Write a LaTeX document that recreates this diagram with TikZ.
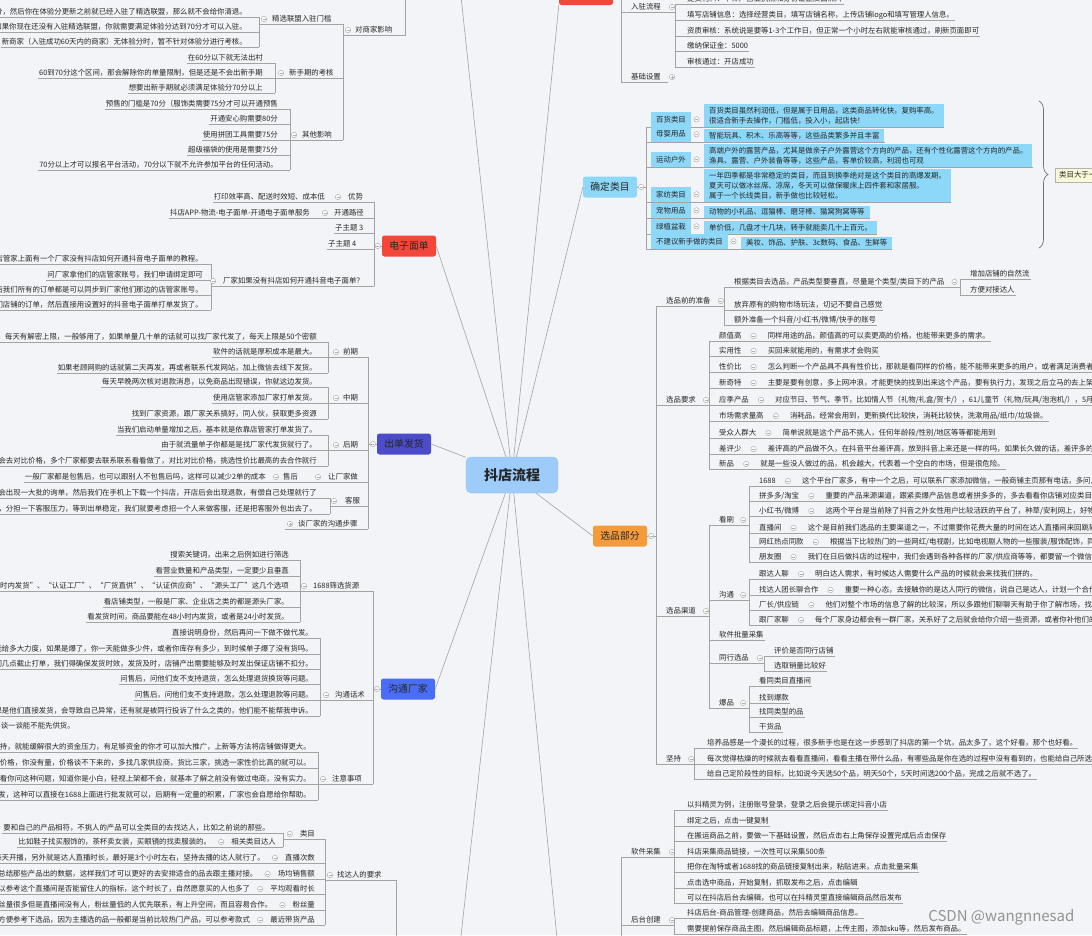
\documentclass[tikz,border=0pt]{standalone}
\usepackage{fontspec}
\setmainfont{Noto Sans CJK SC}
\usetikzlibrary{positioning, decorations.pathreplacing}
\definecolor{cbg}{HTML}{F3F4F8}
\definecolor{cline}{HTML}{A3A3A3}
\definecolor{ctext}{HTML}{262626}
\definecolor{cred}{HTML}{F2473B}
\definecolor{cpurple}{HTML}{4C4BC9}
\definecolor{cblue}{HTML}{4A6DF5}
\definecolor{corange}{HTML}{F49C3C}
\definecolor{ccyan}{HTML}{8DD8F8}
\definecolor{ccenter}{HTML}{9DCCFB}
\definecolor{cnote}{HTML}{FBFAD8}
\definecolor{cmark}{HTML}{B0B0B0}
\tikzset{
  txt/.style={font=\fontsize{7.4}{9}\selectfont, text=ctext, inner xsep=1pt, inner ysep=1.2pt, text height=6pt, text depth=1.6pt},
  ln/.style={draw=cline, line width=0.6pt},
  topic/.style={rounded corners=2.5pt, font=\fontsize{9.8}{11}\selectfont, text=ctext, minimum width=54pt, minimum height=21pt, inner sep=2pt},
  cbox/.style={font=\fontsize{7.4}{10}\selectfont, text=ctext, fill=ccyan, inner xsep=5pt, inner ysep=2.7pt},
  foldmark/.pic={\draw[cmark, fill=white, line width=0.5pt] (0,0) circle (2.7pt); \draw[cmark, line width=0.5pt] (-1.5pt,0) -- (1.5pt,0);},
  openmark/.pic={\draw[cmark, fill=white, line width=0.5pt] (0,0) circle (2.7pt); \draw[cmark, line width=0.5pt] (-1.5pt,0) -- (1.5pt,0) (0,-1.5pt) -- (0,1.5pt);}
}
\begin{document}
\begin{tikzpicture}[x=1pt, y=-1pt]
\fill[cbg] (0,0) rectangle (1092,935);
\useasboundingbox (0,0) rectangle (1092,935);
% bracket columns
\foreach \n/\x in {b0/343, b1/259, b2/275, b3/290, b4/374, b5/211, b6/368, b7/328, b10/330, b11/373, b12/300, b13/320, b14/325, b15/283, b16/318,
    b20/621, b21/675, b22/646, b23/656, b24/724, b25/960, b26/709, b28/749, b30/764, b32/694, b33/674}
  \coordinate (\n) at (\x,0);

% centre and main topics
\node[fill=ccenter, draw=ccenter!85!gray, rounded corners=5pt, minimum width=92pt, minimum height=36pt, font=\fontsize{14}{16}\selectfont\bfseries, text=ctext] (ct) at (512,475) {抖店流程};
\node[topic, fill=cred] (ds) at (409,246) {电子面单};
\node[topic, fill=cpurple] (cd) at (404,444) {出单发货};
\node[topic, fill=cblue] (gc) at (408,689) {沟通厂家};
\node[topic, fill=corange] (xp) at (620,536) {选品部分};
\node[topic, fill=ccyan] (qd) at (610,187) {确定类目};
\node[topic, fill=cred, minimum height=26pt] (rd) at (586,-8) {};
\coordinate (offa) at (455,-60);
\coordinate (offb) at (455,990);
\coordinate (offc) at (562,990);
\foreach \t in {ds.east, cd.east, gc.east, xp.west, qd.west, rd.south west, offa, offb, offc}
  \draw[ln] (ct) -- (\t);

% 对商家影响
\foreach \n/\y/\t in {1/12/{如果你的体验分低于70分，然后你在体验分更新之前就已经入驻了精选联盟，那么就不会给你清退。},
    2/27/{如果你现在还没有入驻精选联盟，你就需要满足体验分达到70分才可以入驻。},
    3/42/{新商家（入驻成功60天内的商家）无体验分时，暂不针对体验分进行考核。}}{
  \node[txt, anchor=east] (jx\n) at (248,\y) {\t};
  \draw[ln] (jx\n.south west) -- (jx\n.south east -| b1);
}
\foreach \n/\y/\t in {1/58/{在60分以下就无法出村},
    2/73/{60到70分这个区间，那会解除你的单量限制，但是还是不会出新手期},
    3/88/{想要出新手期就必须满足体验分70分以上}}{
  \node[txt, anchor=east] (xs\n) at (264,\y) {\t};
  \draw[ln] (xs\n.south west) -- (xs\n.south east -| b2);
}
\foreach \n/\y/\t in {1/104/{预售的门槛是70分（服饰类需要75分才可以开通预售},
    2/119/{开通安心购需要80分},
    3/135/{使用拼团工具需要75分},
    4/150/{超级福袋的使用是需要75分},
    5/165/{70分以上才可以报名平台活动，70分以下就不允许参加平台的任何活动。}}{
  \node[txt, anchor=east] (qt\n) at (279,\y) {\t};
  \draw[ln] (qt\n.south west) -- (qt\n.south east -| b3);
}
\draw[ln] (jx1.south east -| b1) -- (jx3.south east -| b1);
\draw[ln] (xs1.south east -| b2) -- (xs3.south east -| b2);
\draw[ln] (qt1.south east -| b3) -- (qt5.south east -| b3);
\foreach \g/\x/\y/\la/\bb in {jx/271/19/精选联盟入驻门槛/b1, xs/288/73/新手期的考核/b2, qt/301/135/其他影响/b3}{
  \node[txt, anchor=west] (\g) at (\x,\y) {\la};
  \pic at ([xshift=-7pt]\g.west) {foldmark};
  \draw[ln] (\g.south west -| \bb) -- (\g.south west -| b0);
}
\node[txt, anchor=west] (dsj) at (354,30) {对商家影响};
\coordinate (up0) at (405,-40);
\pic at ([xshift=-6pt]dsj.west) {foldmark};
\draw[ln] (jx.south west -| b0) -- (qt.south west -| b0);
\draw[ln] (dsj.south west -| b0) -- (dsj.south west -| up0) -- (up0);

% 电子面单
\node[txt, anchor=west] (ys) at (347,197) {优势};
\node[txt, left=21pt of ys] (ys1) {打印效率高、配送时效短、成本低};
\node[txt, anchor=west] (kt) at (333,213) {开通路径};
\node[txt, left=22pt of kt] (kt1) {抖店APP-物流-电子面单-开通电子面单服务};
\node[txt, anchor=west] (z3) at (334,228) {子主题 3};
\node[txt, anchor=west] (z4) at (327,244) {子主题 4};
\node[txt, anchor=west] (cj) at (222,281) {厂家如果没有抖店如何开通抖音电子面单？};
\foreach \n/\y/\t in {1/259/{店管家上面有一个厂家没有抖店如何开通抖音电子面单的教程。},
    2/275/{问厂家拿他们的店管家账号，我们申请绑定即可},
    3/290/{绑定之后我们所有的订单都是可以同步到厂家他们那边的店管家账号。},
    4/305/{厂家就可以看到我们店铺的订单，然后直接用设置好的抖音电子面单打单发货了。}}{
  \node[txt, anchor=east] (cj\n) at (204,\y) {\t};
  \draw[ln] (cj\n.south west) -- (cj\n.south east -| b5);
}
\draw[ln] (cj1.south east -| b5) -- (cj4.south east -| b5);
\draw[ln] (cj.south west -| b5) -- (cj.south west -| b4);
\draw[ln] (ys1.south west) -- (ys.south west -| b4);
\draw[ln] (kt1.south west) -- (kt.south west -| b4);
\draw[ln] (z3.south west) -- (z3.south west -| b4);
\draw[ln] (z4.south west) -- (z4.south west -| b4);
\draw[ln] (ys.south west -| b4) -- (cj.south west -| b4);
\draw[ln] (ds.west) -- (ds.west -| b4);
\foreach \g/\s in {ys/-9, kt/-8, cj/-9}
  \pic at ([xshift=\s pt]\g.west) {foldmark};
\pic at ([xshift=-4pt]ds.west) {foldmark};

% 出单发货
\foreach \g/\y/\la in {qq/352/前期, zq/398/中期, hq/445/后期}{
  \node[txt, anchor=west] (\g) at (342,\y) {\la};
  \pic at ([xshift=-6pt]\g.west) {foldmark};
  \draw[ln] (\g.south west -| b7) -- (\g.south west -| b6);
}
\foreach \g/\n/\y/\t in {qq/1/337/{前期可以使用店管家打单，每天有解密上限，一般够用了，如果单量几十单的话就可以找厂家代发了，每天上限是50个密额},
    qq/2/352/{软件的话就是厚积成本是最大。},
    qq/3/368/{如果老顾网购的话就第二天再发，再或者联系代发网站，加上微信去线下发货。},
    zq/1/382/{每天早晚两次核对退款消息，以免商品出现错误，你就这边发货。},
    zq/2/398/{使用店管家添加厂家打单发货。},
    zq/3/414/{找到厂家资源，跟厂家关系搞好，同人伙，获取更多资源},
    hq/1/430/{当我们启动单量增加之后，基本就是依靠店管家打单发货了。},
    hq/2/445/{由于就流量单子你都是是找厂家代发货就行了。},
    hq/3/461/{后期单量多了就会去对比价格，多个厂家都要去联系联系看看做了，对比对比价格，挑选性价比最高的去合作就行}}{
  \node[txt, anchor=east] (\g\n) at (318,\y) {\t};
  \draw[ln] (\g\n.south west) -- (\g\n.south east -| b7);
}
\foreach \g in {qq, zq, hq}
  \draw[ln] (\g1.south east -| b7) -- (\g3.south east -| b7);
\node[txt, anchor=west] (rc) at (327,477) {让厂家做};
\node[txt, anchor=west] (sh) at (282,477) {售后};
\node[txt, anchor=east] (sh1) at (267,477) {一般厂家都是包售后，也可以跟别人不包售后吗，这样可以减少2单的成本};
\draw[ln] (sh1.south west) -- (rc.south west -| b6);
\pic at ([xshift=-6pt]sh.west) {foldmark};
\pic at ([xshift=-9pt]rc.west) {foldmark};
\node[txt, anchor=west] (kf) at (344,501) {客服};
\foreach \n/\y/\t in {1/493/{开店之后会出现一大批的询单，然后我们在手机上下载一个抖店，开店后会出现退款，有偿自己处理就行了},
    2/509/{前期可以自己做客服，分担一下客服压力，等到出单稳定，我们就要考虑招一个人来做客服，还是把客服外包出去了。}}{
  \node[txt, anchor=east] (kf\n) at (318,\y) {\t};
  \draw[ln] (kf\n.south west) -- (kf\n.south east -| b10);
}
\draw[ln] (kf1.south east -| b10) -- (kf2.south east -| b10);
\draw[ln] (kf.south west -| b10) -- (kf.south west -| b6);
\pic at ([xshift=-10pt]kf.west) {foldmark};
\node[txt, anchor=west] (tc) at (297,524) {谈厂家的沟通步骤};
\draw[ln] ([xshift=-12pt]tc.south west) -- (tc.south west -| b6);
\pic at ([xshift=-7pt]tc.west) {openmark};
\draw[ln] (qq.south west -| b6) -- (tc.south west -| b6);
\draw[ln] (cd.west) -- (cd.west -| b6);
\pic at ([xshift=-4pt]cd.west) {foldmark};

% 沟通厂家
\foreach \g/\x/\y/\la in {sx/312/586/1688筛选货源, hs/334/695/沟通话术, zy/331/779/注意事项}{
  \node[txt, anchor=west] (\g) at (\x,\y) {\la};
  \pic at ([xshift=-8pt]\g.west) {foldmark};
}
\foreach \n/\y/\t in {1/555/{搜索关键词，出来之后例如进行筛选},
    2/571/{看营业数量和产品类型，一定要少且垂直},
    3/586/{筛选“48小时内发货”、“认证工厂”、“厂货直供”、“认证供应商”、“源头工厂”这几个选项},
    4/602/{看店铺类型，一般是厂家、企业店之类的都是源头厂家。},
    5/617/{看发货时间，商品要能在48小时内发货，或者是24小时发货。}}{
  \node[txt, anchor=east] (sx\n) at (290,\y) {\t};
  \draw[ln] (sx\n.south west) -- (sx\n.south east -| b12);
}
\foreach \n/\y/\t in {1/633/{直接说明身份，然后再问一下做不做代发。},
    2/649/{问他们能给多大力度，如果是爆了，你一天能做多少件，或者你库存有多少，到时候单子爆了没有货吗。},
    3/664/{问他们几点截止打单，我们得确保发货时效，发货及时，店铺产出需要能够及时发出保证店铺不扣分。},
    4/679/{问售后，问他们支不支持退货，怎么处理退货换货等问题。},
    5/695/{问售后，问他们支不支持退款，怎么处理退款等问题。},
    6/711/{问他们能不能帮忙处理售后问题，如果是他们直接发货，会导致自己异常，还有就是被同行投诉了什么之类的，他们能不能帮我申诉。}}{
  \node[txt, anchor=east] (hs\n) at (314,\y) {\t};
  \draw[ln] (hs\n.south west) -- (hs\n.south east -| b13);
}
\node[txt, anchor=east] (hs7) at (76,726) {第一次合作可以先拿样品看质量，再谈一谈能不能先供货。};
\foreach \n/\y/\t in {1/747/{先拿到厂家的代发支持，就能缓解很大的资金压力，有足够资金的你才可以加大推广，上新等方法将店铺做得更大。},
    2/763/{不要一上来就问价格，你没有量，价格谈不下来的，多找几家供应商，货比三家，挑选一家性价比高的就可以。},
    3/779/{不要一上来就问很基础的问题，厂家看你问这种问题，知道你是小白，轻视上架都不会，就基本了解之前没有做过电商，没有实力。},
    4/795/{如果厂家不支持代发，这种可以直接在1688上面进行批发就可以，后期有一定量的积累，厂家也会自愿给你帮助。}}{
  \node[txt, anchor=east] (zy\n) at (312,\y) {\t};
  \draw[ln] (zy\n.south west) -- (zy\n.south east -| b16);
}
\draw[ln] (sx1.south east -| b12) -- (sx5.south east -| b12);
\draw[ln] (hs1.south east -| b13) -- (hs6.south east -| b13);
\draw[ln] (zy1.south east -| b16) -- (zy4.south east -| b16);
\draw[ln] (sx.south west -| b12) -- (sx.south west -| b11);
\draw[ln] (hs.south west -| b13) -- (hs.south west -| b11);
\draw[ln] (zy.south west -| b16) -- (zy.south west -| b11);
\draw[ln] (sx.south west -| b11) -- (zy.south west -| b11);
\draw[ln] (gc.west) -- (gc.west -| b11);
\pic at ([xshift=-4pt]gc.west) {foldmark};

% 找达人的要求
\node[txt, anchor=west] (zd) at (336,875) {找达人的要求};
\coordinate (dn0) at (396,990);
\pic at ([xshift=-6pt]zd.west) {foldmark};
\draw[ln] (zd.south west -| b14) -- (zd.south west -| dn0) -- (dn0);
\foreach \g/\y/\la/\t in {zb/858/直播次数/{看达人每周的直播次数，最好是每天开播，另外就是达人直播时长，最好是3个小时左右，坚持去播的达人就行了。},
    cx/874/场均销售额/{场均销售额可以看出达人带货能力，总结那些产品出的数据，这样我们才可以更好的去安排适合的品去跟主播对接。},
    gk/889/平均观看时长/{平均观看时长可以参考这个直播间是否能留住人的指标，这个时长了，自然愿意买的人也多了},
    fs/905/粉丝量/{有些达人粉丝量很多但是直播间没有人，粉丝量低的人优先联系，有上升空间，而且容易合作。},
    dh/920/最近带货产品/{看达人最近带货的产品，方便参考下选品，因为主播选的品一般都是当前比较热门产品，可以参考款式}}{
  \node[txt, anchor=east] (\g) at (316,\y) {\la};
  \node[txt, left=18pt of \g] (\g1) {\t};
  \pic at ([xshift=-9pt]\g.west) {foldmark};
  \draw[ln] (\g1.south west) -- (\g1.south west -| b14);
}
\node[txt, anchor=east] (lm) at (316,834) {类目};
\node[txt, anchor=east] (lm1) at (271,828) {要和自己的产品相符，不挑人的产品可以全类目的去找达人，比如之前说的那些。};
\node[txt, anchor=east] (xg) at (277,842) {相关类目达人};
\node[txt, left=18pt of xg] (xg1) {比如鞋子找买服饰的，茶杯卖女装，买眼镜的找卖服装的。};
\pic at ([xshift=-9pt]lm.west) {foldmark};
\pic at ([xshift=-9pt]xg.west) {foldmark};
\draw[ln] (lm1.south west) -- (lm1.south east -| b15);
\draw[ln] (xg1.south west) -- (xg.south east -| b15);
\draw[ln] (lm1.south east -| b15) -- (xg.south east -| b15);
\draw[ln] (lm.south west -| b15) -- (lm.south west -| b14);
\draw[ln] (lm.south west -| b14) -- (dh.south west -| b14);

% 入驻流程
\node[txt, anchor=west] (rz) at (630,7) {入驻流程};
\node[txt, anchor=west] (jc) at (630,77) {基础设置};
\foreach \n/\y/\t in {1/-1/{提交材料：个体户营业执照和身份证正反面照片},
    2/15/{填写店铺信息：选择经营类目，填写店铺名称，上传店铺logo和填写管理人信息。},
    3/31/{资质审核：系统说是要等1-3个工作日，但正常一个小时左右就能审核通过，刷新页面即可},
    4/46/{缴纳保证金：5000},
    5/62/{审核通过：开店成功}}{
  \node[txt, anchor=west] (rz\n) at (686,\y) {\t};
  \draw[ln] (rz\n.south west -| b21) -- (rz\n.south east);
}
\coordinate (up1) at (621,-40);
\draw[ln] (rz1.south west -| b21) -- (rz5.south west -| b21);
\draw[ln] (rz.south west -| b20) -- (rz.south west -| b21);
\draw[ln] (up1) -- (jc.south west -| b20) -- ([xshift=6pt]jc.south east);
\pic at ([xshift=10pt]rz.east) {foldmark};
\pic at ([xshift=10pt]jc.east) {openmark};

% 确定类目
\foreach \n/\y/\la/\de in {1/127/百货类目/{百货类目虽然利润低，但是属于日用品，这类商品转化快，复购率高。\\很适合新手去操作，门槛低，投入小，起店快！},
    2/142/母婴用品/{智能玩具、积木、乐高等等，这些品类繁多并且丰富},
    3/167/运动户外/{高端户外的露营产品，尤其是做亲子户外露营这个方向的产品，还有个性化露营这个方向的产品。\\渔具、露营、户外装备等等，这些产品，客单价较高，利润也可观},
    4/202/家纺类目/{一年四季都是非常稳定的类目，而且到换季绝对是这个类目的高爆发期。\\夏天可以做冰丝席、凉席，冬天可以做保暖床上四件套和家居服。\\属于一个长线类目，新手做也比较轻松。},
    5/218/宠物用品/{动物的小礼品、逗猫棒、磨牙棒、猫窝狗窝等等},
    6/234/绿植盆栽/{单价低，几盘才十几块，转手就能卖几十上百元。},
    7/249/不建议新手做的类目/{美妆、饰品、护肤、3c数码、食品、生鲜等}}{
  \node[cbox, anchor=south west, minimum height=15pt] (ca\n) at (651,\y) {\la};
  \node[cbox, anchor=south west, align=left] (cb\n) at ([xshift=13pt]ca\n.south east) {\de};
  \pic at ([xshift=5.5pt]ca\n.east) {foldmark};
  \draw[ln] (ca\n.south west -| b22) -- (cb\n.south east);
}
\draw[ln] (ca1.south west -| b22) -- (ca7.south west -| b22);
\draw[ln] (qd.east) -- (qd.east -| b22);
\pic at ([xshift=4pt]qd.east) {foldmark};
\coordinate (br1) at (1039,101);
\coordinate (br2) at (1039,248);
\draw[draw=black!55, line width=0.7pt, decorate, decoration={brace, amplitude=9pt}] (br1) -- (br2);
\node[txt, fill=cnote, draw=gray!60, inner xsep=4pt, inner ysep=3pt, anchor=west] (note) at (1055,175) {类目大于一切};

% 选品部分
\draw[ln] (xp.east) -- (xp.east -| b23);
\pic at ([xshift=4pt]xp.east) {foldmark};
\foreach \g/\y/\la in {zb0/301/选品前的准备, yq/400/选品要求, qd2/611/选品渠道, jc2/759/坚持}{
  \node[txt, anchor=west] (\g) at (665,\y) {\la};
  \pic at ([xshift=9pt]\g.east) {foldmark};
}
\draw[ln] (zb0.south west -| b23) -- (jc2.south west -| b23);
\draw[ln] (zb0.south west -| b23) -- (zb0.south west -| b24);
\draw[ln] (yq.south west -| b23) -- (yq.south west -| b26);
\draw[ln] (qd2.south west -| b23) -- (qd2.south west -| b26);
\draw[ln] (jc2.south west -| b23) -- (jc2.south west -| b32);
% 选品前的准备
\foreach \n/\y/\t in {1/282/{根据类目去选品，产品类型要垂直，尽量是个类型/类目下的产品},
    2/305/{放弃原有的购物市场玩法，切记不要自己感觉},
    3/320/{额外准备一个抖音/小红书/微博/快手的账号}}{
  \node[txt, anchor=west] (zp\n) at (733,\y) {\t};
  \draw[ln] (zp\n.south west -| b24) -- (zp\n.south east);
}
\draw[ln] (zp1.south west -| b24) -- (zp3.south west -| b24);
\node[txt, anchor=west] (zpa) at (969,274) {增加店铺的自然流};
\node[txt, anchor=west] (zpb) at (969,290) {方便对接达人};
\pic at ([xshift=9pt]zp1.east) {foldmark};
\draw[ln] (zp1.south east) -- (zp1.south east -| b25);
\draw[ln] (zpa.south west -| b25) -- (zpa.south east);
\draw[ln] (zpb.south west -| b25) -- (zpb.south east);
\draw[ln] (zpa.south west -| b25) -- (zpb.south west -| b25);
% 选品要求
\foreach \n/\y/\la/\de in {1/336/颜值高/{同样用途的品，颜值高的可以卖更高的价格，也能带来更多的需求。},
    2/351/实用性/{买回来就能用的，有需求才会购买},
    3/367/性价比/{怎么判断一个产品具不具有性价比，那就是看同样的价格，能不能带来更多的用户，或者满足消费者更多的需求。},
    4/383/新奇特/{主要是要有创意，多上网冲浪，才能更快的找到出来这个产品，要有执行力，发现之后立马的去上架测试。},
    5/400/应季产品/{对应节日、节气、季节，比如情人节（礼物/礼盒/贺卡/），61儿童节（礼物/玩具/泡泡机/），5月母亲节（鲜花/礼盒/）},
    6/416/市场需求量高/{消耗品，经常会用到，更新换代比较快，消耗比较快，洗漱用品/纸巾/垃圾袋。},
    7/433/受众人群大/{简单说就是这个产品不挑人，任何年龄段/性别/地区等等都能用到},
    8/449/差评少/{差评高的产品做不久，在抖音平台差评高，放到抖音上来还是一样的吗，如果长久做的话，差评多的产品是做不起来的。},
    9/464/新品/{就是一些没人做过的品，机会越大，代表着一个空白的市场，但是很危险。}}{
  \node[txt, anchor=west] (yq\n) at (718,\y) {\la};
  \node[txt, right=24pt of yq\n] (yd\n) {\de};
  \pic at ([xshift=11pt]yq\n.east) {foldmark};
  \draw[ln] (yq\n.south west -| b26) -- (yd\n.south east);
}
\draw[ln] (yq1.south west -| b26) -- (yq9.south west -| b26);
% 选品渠道
\foreach \g/\y/\la in {ks/520/看刷, gt/595/沟通, rj/635/软件批量采集, tx/658/同行选品, bp/703/爆品}{
  \node[txt, anchor=west] (\g) at (718,\y) {\la};
  \draw[ln] (\g.south west -| b26) -- (\g.south east);
}
\foreach \g/\s in {ks/8, gt/8, tx/10, bp/8}
  \pic at ([xshift=\s pt]\g.east) {foldmark};
\draw[ln] (ks.south west -| b26) -- (bp.south west -| b26);
\foreach \g/\n/\y/\la/\de in {ks/1/481/1688/{这个平台厂家多，有中一个之后，可以联系厂家添加微信，一般商铺主页那有电话，多问几家。},
    ks/2/496/{拼多多/淘宝}/{重要的产品来源渠道，跟紧卖爆产品信息或者拼多多的，多去看看你店铺对应类目的爆款。},
    ks/3/511/{小红书/微博}/{这两个平台是当前除了抖音之外女性用户比较活跃的平台了，种草/安利网上，好物分享很多。},
    ks/4/528/直播间/{这个是目前我们选品的主要渠道之一，不过需要你花费大量的时间在达人直播间来回跳转。},
    ks/5/542/网红热点同款/{根据当下比较热门的一些网红/电视剧，比如电视剧人物的一些服装/服饰配饰，同款产品。},
    ks/6/557/朋友圈/{我们在日后做抖店的过程中，我们会遇到各种各样的厂家/供应商等等，都要留一个微信。},
    gt/1/574/跟达人聊/{明白达人需求，有时候达人需要什么产品的时候就会来找我们拼的。},
    gt/2/590/找达人团长聊合作/{重要一种心态，去接触你的是达人同行的微信，说自己是达人，计划一个合作。},
    gt/3/605/{厂长/供应链}/{他们对整个市场的信息了解的比较深，所以多跟他们聊聊天有助于你了解市场，找到好产品。},
    gt/4/620/跟厂家聊/{每个厂家身边都会有一群厂家，关系好了之后就会给你介绍一些资源，或者你补他们的货。}}{
  \node[txt, anchor=west] (\g\n) at (758,\y) {\la};
  \node[txt, right=24pt of \g\n] (\g\n d) {\de};
  \pic at ([xshift=11pt]\g\n.east) {foldmark};
  \draw[ln] (\g\n.south west -| b28) -- (\g\n d.south east);
}
\draw[ln] (ks1.south west -| b28) -- (ks6.south west -| b28);
\draw[ln] (gt1.south west -| b28) -- (gt4.south west -| b28);
\draw[ln] (ks.south east) -- (ks.south east -| b28);
\draw[ln] (gt.south east) -- (gt.south east -| b28);
\foreach \n/\y/\t in {1/651/评价是否同行店铺, 2/666/选取销量比较好}{
  \node[txt, anchor=west] (tx\n) at (773,\y) {\t};
  \draw[ln] (tx\n.south west -| b30) -- (tx\n.south east);
}
\draw[ln] (tx.south east) -- (tx.south east -| b30);
\draw[ln] (tx1.south west -| b30) -- (tx2.south west -| b30);
\foreach \n/\y/\t in {1/681/看同类目直播间, 2/698/找到爆款, 3/712/找同类型的品, 4/727/干货品}{
  \node[txt, anchor=west] (bp\n) at (758,\y) {\t};
  \draw[ln] (bp\n.south west -| b28) -- (bp\n.south east);
}
\draw[ln] (bp.south east) -- (bp.south east -| b28);
\draw[ln] (bp1.south west -| b28) -- (bp4.south west -| b28);
% 坚持
\foreach \n/\y/\t in {1/743/{培养品感是一个漫长的过程，很多新手也是在这一步感到了抖店的第一个坑，品太多了，这个好看，那个也好看。},
    2/759/{每次觉得枯燥的时候就去看看直播间，看看主播在带什么品，有哪些品是你在选的过程中没有看到的，也能给自己所选的品做参考。},
    3/774/{给自己定阶段性的目标，比如说今天选50个品，明天50个，5天时间选200个品，完成之后就不选了。}}{
  \node[txt, anchor=west] (jc2\n) at (706,\y) {\t};
  \draw[ln] (jc2\n.south west -| b32) -- (jc2\n.south east);
}
\draw[ln] (jc21.south west -| b32) -- (jc23.south west -| b32);

% 软件采集 / 后台创建
\node[txt, anchor=west] (rc1) at (630,852) {软件采集};
\node[txt, anchor=west] (ht) at (630,920) {后台创建};
\pic at ([xshift=10pt]rc1.east) {foldmark};
\pic at ([xshift=10pt]ht.east) {foldmark};
\foreach \n/\y/\t in {1/805/{以抖精灵为例，注册账号登录，登录之后会提示绑定抖音小店},
    2/821/{绑定之后，点击一键复制},
    3/836/{在搬运商品之前，要做一下基础设置，然后点击右上角保存设置完成后点击保存},
    4/852/{抖店采集商品链接，一次性可以采集500条},
    5/867/{把你在淘特或者1688找的商品链接复制出来，粘贴进来，点击批量采集},
    6/883/{点击选中商品，开始复制，抓取发布之后，点击编辑},
    7/898/{可以在抖店后台去编辑，也可以在抖精灵里直接编辑商品然后发布}}{
  \node[txt, anchor=west] (sw\n) at (686,\y) {\t};
  \draw[ln] (sw\n.south west -| b33) -- (sw\n.south east);
}
\foreach \n/\y/\t in {1/913/{抖店后台-商品管理-创建商品，然后去编辑商品信息。},
    2/929/{需要提前保存商品主图，然后编辑商品标题，上传主图，添加sku等，然后发布商品。}}{
  \node[txt, anchor=west] (hb\n) at (686,\y) {\t};
  \draw[ln] (hb\n.south west -| b33) -- (hb\n.south east);
}
\draw[ln] (sw1.south west -| b33) -- (sw7.south west -| b33);
\draw[ln] (hb1.south west -| b33) -- (hb2.south west -| b33);
\coordinate (dn1) at (621,990);
\draw[ln] (rc1.south west -| b20) -- (rc1.south west -| b33);
\draw[ln] (ht.south west -| b20) -- (ht.south west -| b33);
\draw[ln] (rc1.south west -| b20) -- (dn1);

% watermark
\node[font=\fontsize{15}{16}\selectfont, text=black!42, anchor=east] (wm) at (1078,917) {CSDN @wangnnesad};
\end{tikzpicture}
\end{document}
